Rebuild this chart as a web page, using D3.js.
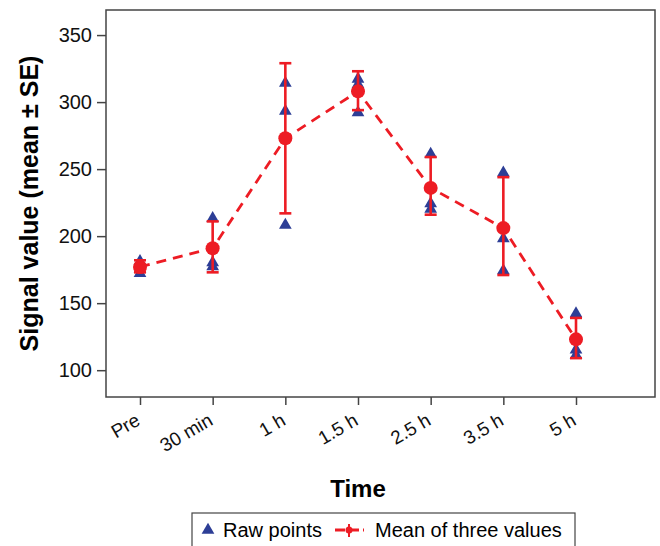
<!DOCTYPE html>
<html>
<head>
<meta charset="utf-8">
<script src="https://cdn.jsdelivr.net/npm/d3@7"></script>
<style>
  body { margin: 0; background: #fff; }
  text { font-family: "Liberation Sans", Arial, sans-serif; }
</style>
</head>
<body>
<div id="chart"></div>
<script>
const times = ["Pre", "30 min", "1 h", "1.5 h", "2.5 h", "3.5 h", "5 h"];
const raw1 = [182, 214, 315, 318, 262, 248, 143];
const raw2 = [176, 181, 294, 314, 225, 199, 116];
const raw3 = [173, 178, 209, 293, 221, 175, 112];
const means = [177, 191, 273, 308, 236, 206, 123];
const upper = [182, 211, 329, 323, 259, 244, 139];
const lower = [173, 173, 217, 294, 216, 171, 109];
const yTicks = [100, 150, 200, 250, 300, 350];

const width = 660, height = 546;
const frame = { left: 106, top: 10, right: 655, bottom: 397 };
const blue = "#2d3e96", red = "#ed1c24";

const svg = d3.select("#chart").append("svg")
  .attr("width", width)
  .attr("height", height);

const x = d3.scalePoint()
  .domain(times)
  .range([140, 576]);

const y = d3.scaleLinear()
  .domain([80, 368.7])
  .range([frame.bottom, frame.top]);

// frame
svg.append("rect")
  .attr("x", frame.left)
  .attr("y", frame.top)
  .attr("width", frame.right - frame.left)
  .attr("height", frame.bottom - frame.top)
  .attr("fill", "none")
  .attr("stroke", "#444")
  .attr("stroke-width", 1.5);

const yAxis = svg.append("g")
  .attr("transform", `translate(${frame.left},0)`)
  .call(d3.axisLeft(y).tickValues(yTicks).tickSize(9).tickPadding(5));
yAxis.select(".domain").remove();
yAxis.selectAll("line").attr("stroke", "#444").attr("stroke-width", 1.5);
yAxis.selectAll("text")
  .attr("font-size", 20)
  .attr("font-family", "Liberation Sans, Arial, sans-serif")
  .attr("fill", "#111");

const xAxis = svg.append("g")
  .attr("transform", `translate(0,${frame.bottom})`)
  .call(d3.axisBottom(x).tickSize(8).tickPadding(6));
xAxis.select(".domain").remove();
xAxis.selectAll("line").attr("stroke", "#444").attr("stroke-width", 1.5);
xAxis.selectAll("text")
  .attr("font-size", 19)
  .attr("font-family", "Liberation Sans, Arial, sans-serif")
  .attr("fill", "#111")
  .attr("text-anchor", "end")
  .attr("y", 0)
  .attr("dy", 0)
  .attr("transform", "translate(1,27) rotate(-30)");

// axis titles
svg.append("text")
  .attr("transform", `translate(38,${(frame.top + frame.bottom) / 2}) rotate(-90)`)
  .attr("text-anchor", "middle")
  .attr("font-size", 25)
  .attr("font-weight", "bold")
  .text("Signal value (mean ± SE)");

svg.append("text")
  .attr("x", 358)
  .attr("y", 497)
  .attr("text-anchor", "middle")
  .attr("font-size", 24)
  .attr("font-weight", "bold")
  .text("Time");

const tri = d3.symbol().type(d3.symbolTriangle).size(70);

// raw points
const rawPts = [];
times.forEach((t, i) => {
  [raw1[i], raw2[i], raw3[i]].forEach(v => rawPts.push({ t, v }));
});
svg.append("g").selectAll("path")
  .data(rawPts)
  .join("path")
  .attr("d", tri)
  .attr("transform", d => `translate(${x(d.t)},${y(d.v) + 1})`)
  .attr("fill", blue);

// mean line
const meanData = times.map((t, i) => ({ t, m: means[i], hi: upper[i], lo: lower[i] }));
svg.append("path")
  .datum(meanData)
  .attr("d", d3.line().x(d => x(d.t)).y(d => y(d.m)))
  .attr("fill", "none")
  .attr("stroke", red)
  .attr("stroke-width", 2.8)
  .attr("stroke-dasharray", "10,7");

// error bars
const eb = svg.append("g").attr("stroke", red).attr("stroke-width", 2.6);
eb.selectAll(".v").data(meanData).join("line")
  .attr("x1", d => x(d.t)).attr("x2", d => x(d.t))
  .attr("y1", d => y(d.hi)).attr("y2", d => y(d.lo));
eb.selectAll(".hi").data(meanData).join("line")
  .attr("x1", d => x(d.t) - 6).attr("x2", d => x(d.t) + 6)
  .attr("y1", d => y(d.hi)).attr("y2", d => y(d.hi));
eb.selectAll(".lo").data(meanData).join("line")
  .attr("x1", d => x(d.t) - 6).attr("x2", d => x(d.t) + 6)
  .attr("y1", d => y(d.lo)).attr("y2", d => y(d.lo));

svg.append("g").selectAll("circle")
  .data(meanData)
  .join("circle")
  .attr("cx", d => x(d.t))
  .attr("cy", d => y(d.m))
  .attr("r", 7)
  .attr("fill", red);

// legend
const lg = svg.append("g");
lg.append("rect")
  .attr("x", 192).attr("y", 513)
  .attr("width", 383).attr("height", 40)
  .attr("fill", "#fff")
  .attr("stroke", "#444")
  .attr("stroke-width", 1.2);
lg.append("path")
  .attr("d", tri)
  .attr("transform", "translate(208,530)")
  .attr("fill", blue);
lg.append("text")
  .attr("x", 223).attr("y", 537)
  .attr("font-size", 20)
  .text("Raw points");
lg.append("line")
  .attr("x1", 335).attr("x2", 364)
  .attr("y1", 530).attr("y2", 530)
  .attr("stroke", red).attr("stroke-width", 3)
  .attr("stroke-dasharray", "10,4");
lg.append("line")
  .attr("x1", 349).attr("x2", 349)
  .attr("y1", 524).attr("y2", 537)
  .attr("stroke", red).attr("stroke-width", 2);
lg.append("circle")
  .attr("cx", 349).attr("cy", 530).attr("r", 3.5)
  .attr("fill", red);
lg.append("text")
  .attr("x", 375).attr("y", 537)
  .attr("font-size", 20)
  .text("Mean of three values");
</script>
</body>
</html>
